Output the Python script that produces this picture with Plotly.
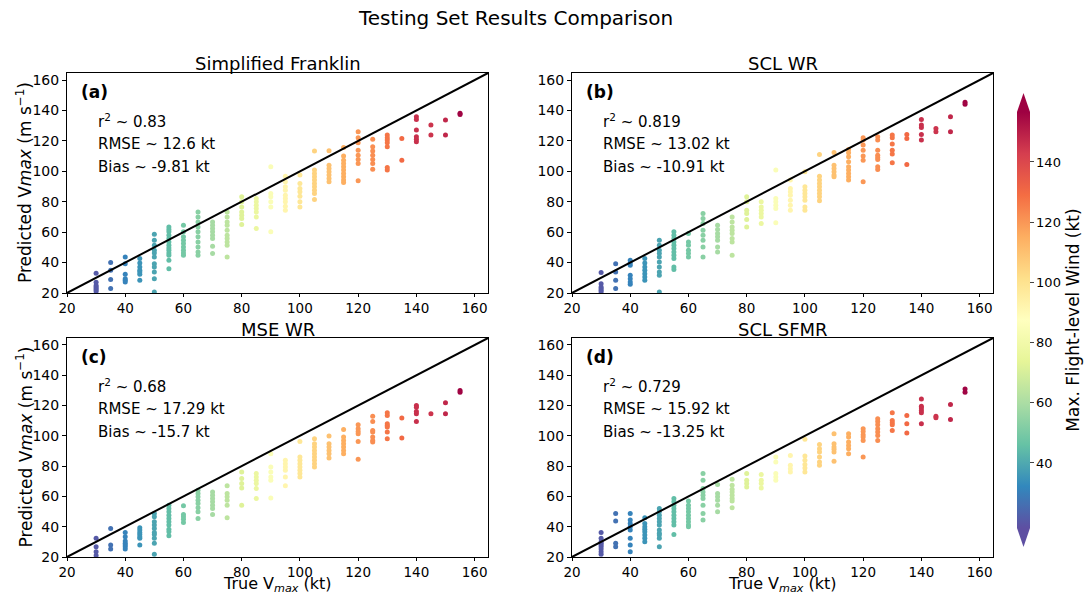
import plotly.graph_objects as go

# ---------------- data ----------------
vmax_levels = [30, 35, 40, 45, 50, 55, 60, 65, 70, 75, 80, 85, 90, 95, 100,
               105, 110, 115, 120, 125, 130, 135, 140, 145, 150, 155]

# colour (max. flight-level wind, kt) read per true-Vmax column
flight_wind_levels = [21, 27, 31, 35, 39, 45, 49, 53, 59, 64, 72, 77, 85, 92, 98,
                      105, 110, 115, 120, 122, 127, 130, 146, 145, 148, 156]

pred_franklin = [
    [33, 27, 25, 24, 23, 22, 21],
    [40, 34.9, 28.8, 22.9],
    [43.7, 39.3, 32.3, 29.4, 28.3, 27.2],
    [42.6, 39.8, 37.1, 34.9, 33.8, 32.3, 28.3],
    [58.6, 54.7, 51.4, 48.1, 46.3, 43.7, 39.3, 37.1, 33.8, 29.4, 20.7],
    [63.4, 61.7, 60.2, 58, 55.8, 53.6, 51.4, 49.6, 48.1, 46.3, 44.8, 41.5, 36],
    [64.5, 60.2, 56.9, 54.7, 52.5, 50.3, 48.1, 46.3, 44.8],
    [73.3, 70, 66.7, 63.4, 60.2, 56.9, 53.6, 50.3, 47, 44.8],
    [66.7, 64.5, 62.4, 60.2, 58, 55.8, 50.7, 45.9],
    [73.3, 70, 66.7, 64.5, 61.3, 58, 55.8, 53.6, 51.4, 43.7],
    [83.2, 79.9, 76.6, 73.3, 71.1, 68.9, 65],
    [82.1, 79.9, 77.7, 75.5, 73.3, 70, 62.4],
    [103, 85.4, 83.2, 79.9, 76.6, 60.2],
    [96.8, 93.1, 89.8, 87.6, 84.3, 82.1, 79.9, 77.1, 74.4],
    [97.5, 92, 88.7, 86.5, 83.6, 79.9, 76.6],
    [113.3, 100.8, 98.6, 96.4, 94.2, 92, 89.8, 87.6, 85.4, 81.4],
    [113.5, 104, 101.9, 99.7, 97.5, 95.3, 93.1],
    [115.7, 110, 107.3, 105.1, 103, 100.8, 98.6, 96.4, 94.2, 92.6],
    [126, 122, 118.7, 113.9, 110.6, 107.8, 105.1, 93.7],
    [121, 116.1, 113.3, 110.6, 107.8, 105.1, 101.4],
    [123.8, 122, 120.5, 118.7, 116.1, 102.5, 100.8],
    [121.6, 107.3],
    [135.9, 134.1, 127.1, 122.7, 121, 119.4],
    [130.4, 123.8],
    [133.7, 123.8],
    [138.1, 137.4],
]

pred_scl_wr = [
    [33.4, 26.1, 24, 22.9, 21.8, 20.7],
    [39.3, 33.8, 28.3, 22.9],
    [41.5, 39.8, 38.2, 31.6, 29.4, 27.2, 25.7],
    [42.6, 39.8, 37.1, 34.9, 32.7, 30.5, 28.3],
    [54.7, 51.4, 48.1, 45.9, 43.7, 40.4, 37.1, 33.8, 31.6, 20.7],
    [60.2, 58, 55.8, 53.6, 51.4, 49.2, 47, 44.8, 42.6, 37.1, 35.4],
    [59.1, 53.6, 51.4, 48.1, 45.9, 43.7],
    [72.2, 68.9, 65.6, 61.3, 58, 54.7, 50.3, 43.7],
    [64.5, 61.7, 59.1, 56.9, 54.7, 50.3, 47],
    [70, 66.7, 63.4, 61.3, 59.1, 55.8, 53.6, 44.8],
    [83.2, 79.9, 74.4, 72.2, 68.3, 63.4],
    [79.9, 76.6, 74.4, 72.2, 70, 65.6],
    [100.8, 82.1, 79.9, 77.7, 75.5, 66.1],
    [94.2, 88.7, 86.5, 84.3, 81, 77.7, 74.4],
    [99.7, 89.8, 87.6, 85.4, 83.2, 81, 76.6, 74.4],
    [111.1, 96.8, 94.2, 92, 89.8, 87.6, 85.4, 83.2, 80.6],
    [112.4, 104, 101.9, 99.7, 97.5, 96.4],
    [114.4, 112.2, 109.5, 106.2, 103, 100.8, 98.6, 96.4, 94.2],
    [122, 120.5, 117.2, 113.9, 110, 107.3, 93.1],
    [122.7, 120.5, 113.9, 110.6, 109.1, 107.8, 103, 101.2],
    [123.8, 122, 117.9, 113.9, 111.3, 105.6],
    [124.2, 121.6, 104.5],
    [134.1, 130.4, 128.8, 124.2, 120.5],
    [128.2, 126],
    [135.9, 126],
    [145.3, 144],
]

pred_mse_wr = [
    [32.3, 26.8, 23.5, 21],
    [38.9, 27.9, 25.3],
    [36.2, 33.4, 30.5, 29, 27.9, 26.8, 25.3],
    [39.3, 37.8, 36.2, 34.9, 33.4, 32.3, 27.9],
    [48.7, 46.5, 43.3, 41.1, 38.9, 36.2, 34.9, 32.3, 29, 21.8],
    [54.2, 52, 49.8, 47.6, 45.4, 43.3, 41.1, 38.4, 36.7, 34],
    [53.8, 48.1, 46.5, 45, 42.8],
    [64.1, 61.9, 59.7, 57.5, 55.3, 52.5, 49.8, 45.4],
    [63, 60.8, 58.6, 56.4, 54.2, 52, 48.1],
    [67, 61.9, 59.7, 57.5, 54.2, 45.9],
    [76.2, 71.8, 68.5, 65.6, 54.2],
    [75.1, 72.9, 70.7, 68.5, 65.2, 58.6],
    [88.2, 79.5, 76.2, 72.9, 70.7, 59],
    [83.8, 81.6, 79.5, 77.3, 72.9, 67],
    [96.3, 86, 83.8, 81.6, 79.5, 77.3, 75.1, 72.9],
    [98.1, 94.8, 92.6, 90.4, 88.2, 86, 83.8, 81.6, 79.5],
    [99.9, 94.8, 92.6, 90.4, 88.2, 85.4],
    [104.2, 99.2, 97, 94.8, 92.6, 90.4, 88.2],
    [107.3, 104.7, 102.9, 101.4, 96.3, 84.5],
    [113, 109.5, 103.6, 102.5, 99.2, 97, 95.9],
    [115.2, 113.5, 108, 106.9, 105.8, 102.5, 98.1],
    [111.7, 98.5],
    [120, 118.9, 116.1, 114.6, 109.5],
    [114.6],
    [121.8, 114.6],
    [129.9, 128.8],
]

pred_scl_sfmr = [
    [36.2, 32.3, 30.1, 29, 27.9, 26.8, 25.3, 23.5, 21.8],
    [48.7, 43.7, 29, 26.8],
    [48.7, 44.4, 42.2, 40, 37.8, 32.3, 27.9, 23.5],
    [45.9, 42.2, 40, 38.4, 36.7, 34.5, 32.3, 30.1],
    [52, 49.8, 47.6, 45.4, 43.3, 41.1, 37.8, 35.6, 34.5, 32.3, 26.8],
    [58.6, 56.4, 54.2, 52, 49.8, 47.6, 45.4, 43.3, 41.1, 34.9],
    [56.9, 54.2, 52, 49.8, 47.6, 45.4, 43.3, 41.1, 40],
    [75.1, 70.7, 65.2, 63, 60.8, 58.6, 54.2, 48.7, 44.4],
    [67.8, 61.9, 59.7, 57.5, 54.2, 49.8],
    [71.3, 67.4, 64.8, 63, 60.8, 58.6, 56.9, 52.5],
    [75.1, 70.7, 68.5, 66.3],
    [74.4, 70.7, 68.5, 65.6],
    [86, 82.7, 75.1, 72.9, 70.7],
    [87.1, 80.5, 78.3, 76.2],
    [97.7, 86.7, 83.8, 81, 78.8, 76.2],
    [94.2, 91.5, 89.3, 86, 82.7, 80.5],
    [101.4, 94.8, 92.6, 91.1, 89.3, 83.2],
    [101.4, 99.2, 95.9, 93.7, 91.5, 88.2],
    [104.7, 102.9, 100.7, 99.2, 97, 86],
    [111.3, 109.5, 107.3, 104.7, 102.5, 100.3, 97],
    [115.2, 110.2, 108.6, 107.3, 103.6],
    [113.5, 108, 101.8],
    [124.4, 119.6, 118.3, 116.8, 115.2, 108],
    [113, 111.9],
    [120.7, 110.8],
    [131, 128.8],
]

panel_titles = ["Simplified Franklin", "SCL WR", "MSE WR", "SCL SFMR"]
panel_letters = ["(a)", "(b)", "(c)", "(d)"]
r2_values = ["0.83", "0.819", "0.68", "0.729"]
rmse_values = ["12.6", "13.02", "17.29", "15.92"]
bias_values = ["-9.81", "-10.91", "-15.7", "-13.25"]
axis_ticks = [20, 40, 60, 80, 100, 120, 140, 160]
cbar_ticks = [40, 60, 80, 100, 120, 140]
axis_limits = [20, 164.6]
color_limits = [18.4, 156.6]

# ---------------- layout helpers ----------------
W, H = 1085, 597


def px(x):
    return x / W


def py(y):
    return 1 - y / H


FONT = "DejaVu Sans"
# pixel boxes of the four panels: (left, right, top, bottom)
boxes = [(67, 488, 73, 293), (572, 993, 73, 293),
         (67, 488, 338, 557), (572, 993, 338, 557)]
all_preds = [pred_franklin, pred_scl_wr, pred_mse_wr, pred_scl_sfmr]

fig = go.Figure()
annotations = []
layout_axes = {}

for i in range(4):
    n = i + 1
    xa = "x" if n == 1 else f"x{n}"
    ya = "y" if n == 1 else f"y{n}"
    xs, ys, cs = [], [], []
    for v, fl, col in zip(vmax_levels, flight_wind_levels, all_preds[i]):
        for p in col:
            xs.append(v)
            ys.append(p)
            cs.append(fl)
    fig.add_trace(go.Scatter(
        x=xs, y=ys, mode="markers", xaxis=xa, yaxis=ya,
        marker=dict(size=5, color=cs, coloraxis="coloraxis", line=dict(width=0)),
        showlegend=False, hoverinfo="x+y"))
    fig.add_trace(go.Scatter(
        x=axis_limits, y=axis_limits, mode="lines", xaxis=xa, yaxis=ya,
        line=dict(color="black", width=2), showlegend=False, hoverinfo="skip"))

    l, r, t, b = boxes[i]
    axcommon = dict(range=axis_limits, tickvals=axis_ticks, ticks="outside",
                    ticklen=4, tickwidth=1, tickcolor="black", showline=True,
                    linecolor="black", linewidth=1, mirror=True, showgrid=False,
                    zeroline=False, automargin=False,
                    tickfont=dict(family=FONT, size=14, color="black"))
    xk = "xaxis" if n == 1 else f"xaxis{n}"
    yk = "yaxis" if n == 1 else f"yaxis{n}"
    layout_axes[xk] = dict(axcommon, domain=[px(l), px(r)], anchor=ya, ticklen=3,
                           tickfont=dict(family=FONT, size=13.5, color="black"))
    layout_axes[yk] = dict(axcommon, domain=[py(b), py(t)], anchor=xa)

    if n in (3, 4):
        annotations.append(dict(text="True V<sub><i>max</i></sub> (kt)",
                                x=px((l + r) / 2), y=0, xref="paper",
                                yref="paper", xanchor="center", yanchor="bottom",
                                showarrow=False,
                                font=dict(family=FONT, size=16, color="black")))
    if n in (1, 3):
        annotations.append(dict(text="Predicted V<i>max</i> (m s<sup>−1</sup>)",
                                x=px(24), y=py((t + b) / 2), xref="paper",
                                yref="paper", xanchor="center", yanchor="middle",
                                textangle=-90, showarrow=False,
                                font=dict(family=FONT, size=17, color="black")))

    # subplot title
    annotations.append(dict(text=panel_titles[i], x=px((l + r) / 2), y=py(t - 9),
                            xref="paper", yref="paper", xanchor="center",
                            yanchor="middle", showarrow=False,
                            font=dict(family=FONT, size=18, color="black")))
    # letters and stats
    annotations.append(dict(text="<b>" + panel_letters[i] + "</b>",
                            x=px(l + 12), y=py(t + 19), xref="paper", yref="paper",
                            xanchor="left", yanchor="middle", showarrow=False,
                            font=dict(family=FONT, size=17, color="black")))
    stats = [f"r<sup>2</sup> ~ {r2_values[i]}", f"RMSE ~ {rmse_values[i]} kt",
             f"Bias ~ {bias_values[i]} kt"]
    offs = [48, 71, 94]
    for s, o in zip(stats, offs):
        annotations.append(dict(text=s, x=px(l + 29), y=py(t + o),
                                xref="paper", yref="paper", xanchor="left",
                                yanchor="middle", showarrow=False,
                                font=dict(family=FONT, size=15, color="black")))

# main title
annotations.append(dict(text="Testing Set Results Comparison", x=px(515), y=py(18),
                        xref="paper", yref="paper", xanchor="center", yanchor="middle",
                        showarrow=False, font=dict(family=FONT, size=20, color="black")))

# colorbar extension triangles
cb_l, cb_r, cb_t, cb_b = 1017, 1030, 112, 528
tri_h = 19
shapes = [
    dict(type="path", xref="paper", yref="paper",
         path=f"M {px(cb_l)},{py(cb_t)} L {px(cb_r)},{py(cb_t)} L {px((cb_l + cb_r) / 2)},{py(cb_t - tri_h)} Z",
         fillcolor="rgb(158,1,66)", line=dict(width=0)),
    dict(type="path", xref="paper", yref="paper",
         path=f"M {px(cb_l)},{py(cb_b)} L {px(cb_r)},{py(cb_b)} L {px((cb_l + cb_r) / 2)},{py(cb_b + tri_h)} Z",
         fillcolor="rgb(94,79,162)", line=dict(width=0)),
]

fig.update_layout(
    width=W, height=H,
    margin=dict(l=0, r=0, t=0, b=0, autoexpand=False),
    paper_bgcolor="white", plot_bgcolor="white",
    font=dict(family=FONT, color="black"),
    annotations=annotations,
    shapes=shapes,
    coloraxis=dict(
        colorscale="Spectral_r", cmin=color_limits[0], cmax=color_limits[1],
        colorbar=dict(
            x=px(cb_l), xanchor="left", xpad=0, ypad=0,
            y=py((cb_t + cb_b) / 2), yanchor="middle",
            len=cb_b - cb_t, lenmode="pixels", thickness=cb_r - cb_l,
            outlinewidth=0, tickvals=cbar_ticks, ticks="outside", ticklen=4,
            tickfont=dict(family=FONT, size=13, color="black"),
            title=dict(text="Max. Flight-level Wind (kt)", side="right",
                       font=dict(family=FONT, size=17, color="black")),
        ),
    ),
    **layout_axes,
)

fig.write_html("out.html")
